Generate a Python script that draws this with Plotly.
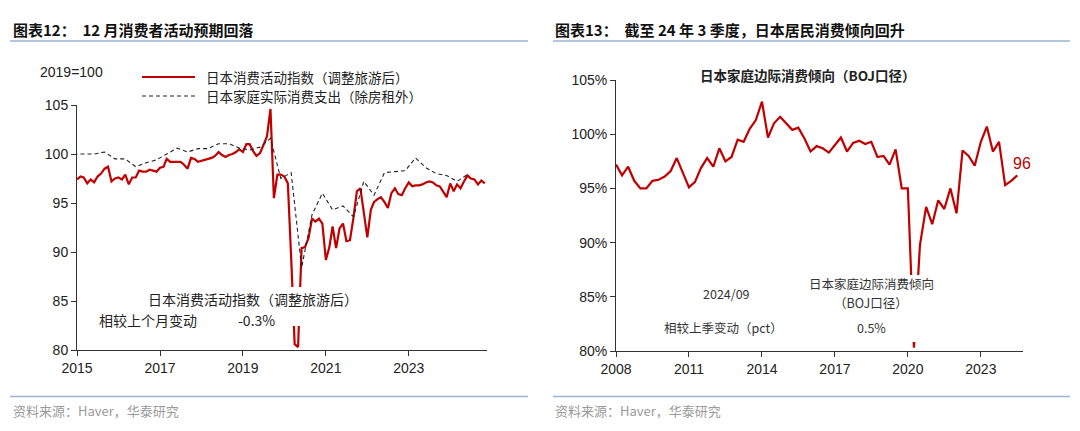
import plotly.graph_objects as go
import pandas as pd

W, H = 1080, 431
RED = '#C00000'

# ---------------- data ----------------
# Left: Japan consumption activity index (travel-adjusted), monthly Jan-2015 .. Nov-2024, 2019=100
act_dates = pd.date_range('2015-01-01', '2024-11-01', freq='MS')
activity = [
    97.4, 97.7, 97.6, 97.0, 97.4, 97.1, 97.7, 98.0, 98.5, 98.7, 97.2, 97.5,   # 2015
    97.6, 97.4, 97.9, 96.9, 97.6, 97.6, 98.3, 98.2, 98.2, 98.4, 98.3, 98.2,   # 2016
    98.6, 98.7, 99.5, 99.2, 99.2, 99.2, 99.2, 98.9, 98.5, 99.6, 99.5, 99.2,   # 2017
    99.3, 99.4, 99.5, 99.6, 99.8, 100.2, 99.9, 99.7, 99.9, 100.0, 100.2, 100.5,  # 2018
    100.2, 101.0, 101.0, 100.3, 99.8, 100.1, 100.9, 101.8, 104.6, 95.5, 97.9, 97.9,  # 2019
    97.7, 97.0, 89.5, 80.6, 80.3, 90.4, 90.5, 91.4, 93.4, 93.1, 93.4, 92.9,   # 2020
    89.2, 90.5, 92.6, 90.4, 92.4, 92.9, 91.1, 91.2, 93.5, 96.2, 96.5, 94.0,   # 2021
    91.5, 94.3, 95.1, 95.4, 95.6, 95.1, 94.5, 96.0, 96.5, 95.9, 95.8, 96.5,   # 2022
    97.1, 96.7, 96.8, 96.8, 96.9, 97.1, 97.2, 97.1, 96.8, 96.7, 96.2, 95.6,   # 2023
    97.0, 96.2, 96.9, 96.5, 97.2, 97.8, 97.5, 97.4, 96.9, 97.3, 97.0,         # 2024
]

# Left: household real consumption expenditure excl. rent, quarterly (plotted at quarter-end month)
hh_dates = pd.date_range('2014-12-01', '2024-06-01', freq='3MS')
household = [
    100.0, 100.0, 100.0, 100.2, 99.5, 99.5, 98.7, 99.1, 99.4,
    100.0, 100.6, 100.2, 100.55, 100.55, 101.05, 101.05, 100.6,
    100.4, 100.7, 101.6, 97.5, 98.1, 88.4, 93.8, 96.0,
    94.3, 94.7, 93.6, 97.2, 95.8, 98.1, 98.2, 98.3,
    99.6, 98.6, 98.0, 97.8, 97.2, 97.9,
]

# Right: Japan household marginal propensity to consume (BOJ), quarterly 2008Q1 .. 2024Q3, %
mpc_dates = pd.date_range('2008-01-01', '2024-07-01', freq='QS')
mpc = [
    97.2, 96.2, 97.0, 95.7, 95.0, 95.0, 95.7, 95.8, 96.1, 96.6, 97.8, 96.5,    # 2008-2010
    95.1, 95.6, 96.9, 97.8, 97.0, 98.7, 97.5, 97.9, 99.5, 99.3, 100.5, 101.3,  # 2011-2013
    103.0, 99.7, 101.0, 101.6, 101.0, 100.4, 100.6, 99.6, 98.4, 98.9, 98.7, 98.3,  # 2014-2016
    99.0, 99.7, 98.4, 99.2, 99.4, 99.1, 99.3, 97.9, 98.0, 97.2, 98.6, 95.0,    # 2017-2019
    95.0, 80.3, 89.8, 93.3, 91.7, 93.9, 93.1, 95.0, 92.7, 98.5, 98.0, 97.1,    # 2020-2022
    99.3, 100.7, 98.4, 99.3, 95.3, 95.7, 96.2,                                  # 2023-2024Q3
]

left_ticks = ['2015', '2017', '2019', '2021', '2023']
right_ticks = ['2008', '2011', '2014', '2017', '2020', '2023']
y_ticks = [80, 85, 90, 95, 100, 105]

# ---------------- helpers ----------------
def px(x):
    return x / W

def py(y):
    return 1 - y / H

TICKFONT = dict(family='Liberation Sans, Arial, sans-serif', size=14, color='#222')
CJK = 'Noto Sans CJK SC, sans-serif'

fig = go.Figure()
fig.add_trace(go.Scatter(x=act_dates, y=activity, mode='lines',
                         line=dict(color=RED, width=2.2),
                         name='日本消费活动指数（调整旅游后）',
                         xaxis='x', yaxis='y', showlegend=False))
fig.add_trace(go.Scatter(x=hh_dates, y=household, mode='lines',
                         line=dict(color='#222', width=1.1, dash='4px,3px'),
                         name='日本家庭实际消费支出（除房租外）',
                         xaxis='x', yaxis='y', showlegend=False))
fig.add_trace(go.Scatter(x=mpc_dates, y=mpc, mode='lines',
                         line=dict(color=RED, width=2.2),
                         name='日本家庭边际消费倾向（BOJ口径）',
                         xaxis='x2', yaxis='y2', showlegend=False))

axis_common = dict(showgrid=False, zeroline=False, showline=True, linecolor='#333',
                   linewidth=1, ticks='outside', ticklen=5, tickcolor='#333',
                   tickfont=TICKFONT, automargin=False)

fig.update_layout(
    template='none',
    width=W, height=H,
    margin=dict(l=0, r=0, t=0, b=0, pad=0, autoexpand=False),
    paper_bgcolor='white', plot_bgcolor='white',
    showlegend=False,
    xaxis=dict(domain=[px(77), px(487)], type='date',
               range=['2015-01-01', '2024-11-20'],
               tickvals=[f'{t}-01-01' for t in left_ticks], ticktext=left_ticks,
               anchor='y', **axis_common),
    yaxis=dict(domain=[py(350), py(105)], range=[80, 105],
               tickvals=y_ticks, ticktext=[str(v) for v in y_ticks],
               anchor='x', **axis_common),
    xaxis2=dict(domain=[px(616), px(1023)], type='date',
                range=['2008-01-01', '2024-09-25'],
                tickvals=[f'{t}-01-01' for t in right_ticks], ticktext=right_ticks,
                anchor='y2', **axis_common),
    yaxis2=dict(domain=[py(351), py(80)], range=[80, 105],
                tickvals=y_ticks, ticktext=[f'{v}%' for v in y_ticks],
                anchor='x2', **axis_common),
)

shapes = []
# header / footer rules
for (x0, x1) in [(10, 528), (553, 1070)]:
    shapes.append(dict(type='line', xref='paper', yref='paper', x0=px(x0), x1=px(x1),
                       y0=py(41), y1=py(41), line=dict(color='#9DB3CF', width=1.5)))
    shapes.append(dict(type='line', xref='paper', yref='paper', x0=px(x0), x1=px(x1),
                       y0=py(396.5), y1=py(396.5), line=dict(color='#9DB3CF', width=1.5)))
# white boxes behind the in-plot notes
shapes.append(dict(type='rect', xref='paper', yref='paper', x0=px(90), x1=px(368),
                   y0=py(326), y1=py(287), fillcolor='white', line=dict(width=0), layer='above'))
shapes.append(dict(type='rect', xref='paper', yref='paper', x0=px(660), x1=px(944),
                   y0=py(342), y1=py(275), fillcolor='white', line=dict(width=0), layer='above'))
# custom legend samples
shapes.append(dict(type='line', xref='paper', yref='paper', x0=px(142), x1=px(195),
                   y0=py(77), y1=py(77), line=dict(color=RED, width=2.2)))
shapes.append(dict(type='line', xref='paper', yref='paper', x0=px(142), x1=px(195),
                   y0=py(96), y1=py(96), line=dict(color='#222', width=1.1, dash='4px,3px')))
fig.update_layout(shapes=shapes)

ann = []
def note(text, x, y, size=13, color='#222', family=CJK, xanchor='left', bold=False):
    if bold:
        text = f'<b>{text}</b>'
    ann.append(dict(text=text, x=px(x), y=py(y), xref='paper', yref='paper',
                    xanchor=xanchor, yanchor='middle', showarrow=False,
                    font=dict(family=family, size=size, color=color)))

note('图表12：  12 月消费者活动预期回落', 11, 29, size=15, color='#111', bold=True)
note('图表13：  截至 24 年 3 季度，日本居民消费倾向回升', 553, 29, size=15, color='#111', bold=True)
note('资料来源：Haver，华泰研究', 11, 410, size=13, color='#9A9A9A')
note('资料来源：Haver，华泰研究', 553, 410, size=13, color='#9A9A9A')

note('2019=100', 38, 72, size=14, family='Liberation Sans, Arial, sans-serif')
note('日本消费活动指数（调整旅游后）', 204, 77, size=13.5)
note('日本家庭实际消费支出（除房租外）', 204, 96, size=13.5)

note('日本消费活动指数（调整旅游后）', 253, 299, size=14, xanchor='center')
note('相较上个月变动', 97, 320, size=14)
note('-0.3%', 256, 320, size=14, xanchor='center')

note('日本家庭边际消费倾向（BOJ口径）', 808, 75, size=13.5, bold=True, xanchor='center')
note('96', 1022, 163, size=16, color=RED, family='Liberation Sans, Arial, sans-serif', xanchor='center')
note('2024/09', 726, 293, size=12.5, color='#333', xanchor='center')
note('相较上季变动（pct）', 723, 327, size=12.5, color='#333', xanchor='center')
note('日本家庭边际消费倾向', 871, 283, size=12.5, color='#333', xanchor='center')
note('（BOJ口径）', 871, 302, size=12.5, color='#333', xanchor='center')
note('0.5%', 871, 327, size=12.5, color='#333', xanchor='center')

fig.update_layout(annotations=ann)

fig.write_html('out.html',
               config={'displayModeBar': False},
               post_script="document.body.style.margin='0';document.body.style.overflow='hidden';")
